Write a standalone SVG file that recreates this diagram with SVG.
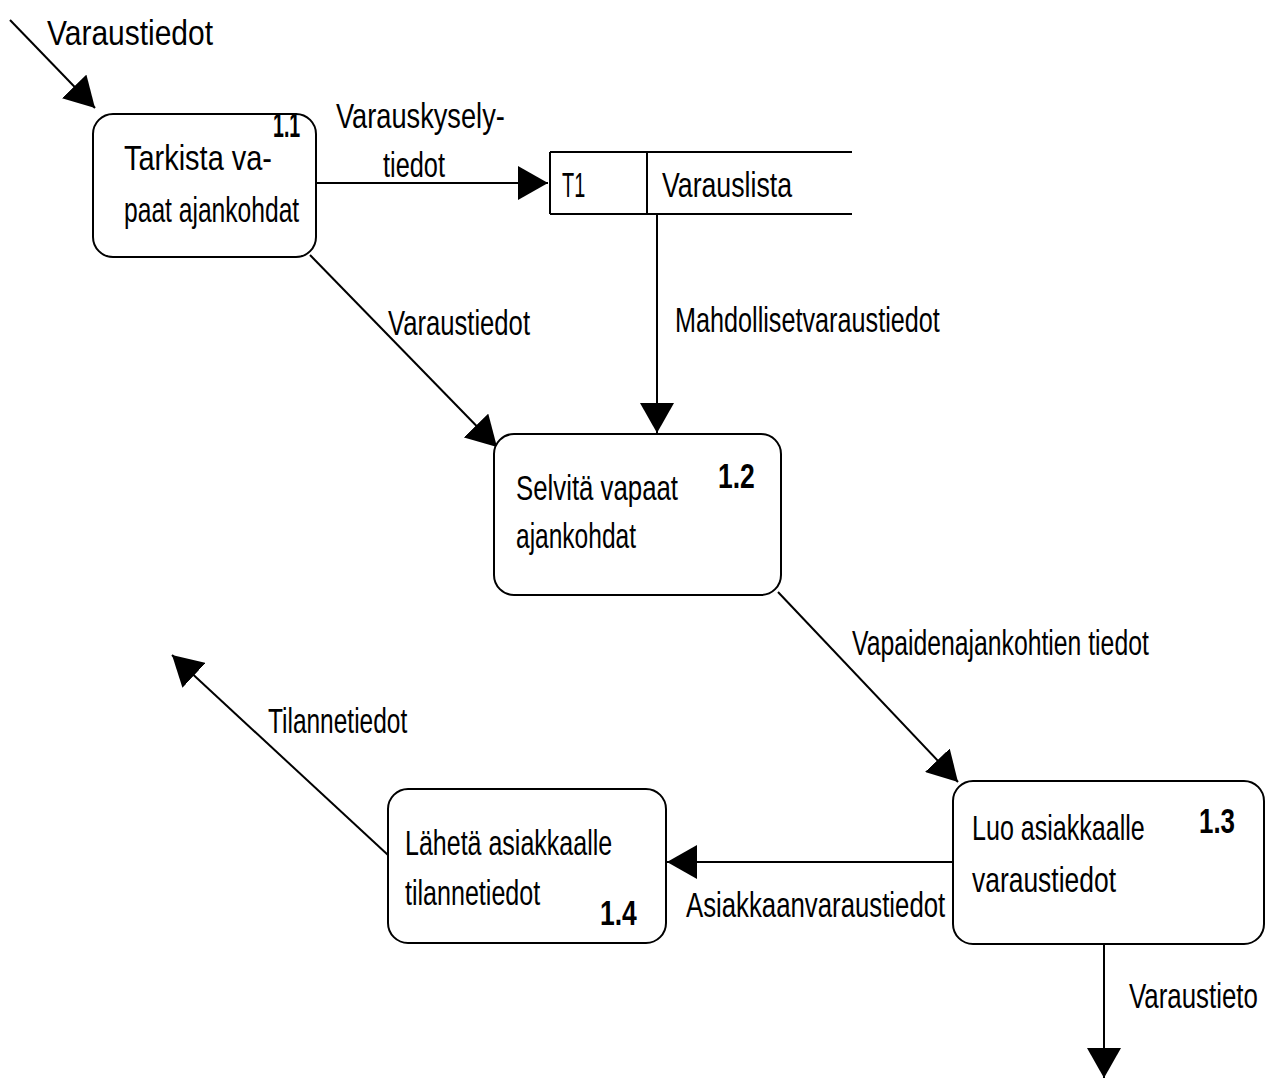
<svg xmlns="http://www.w3.org/2000/svg" width="1268" height="1080" viewBox="0 0 1268 1080">
<style>
.box{fill:#fff;stroke:#000;stroke-width:2}
.t{font-family:"Liberation Sans",Arial,sans-serif;font-size:36px;fill:#000}
.n{font-family:"Liberation Sans",Arial,sans-serif;font-size:36px;font-weight:bold;fill:#000}
.c{fill:none;stroke:#000;stroke-width:2}
</style>
<defs>
<marker id="ah" markerUnits="userSpaceOnUse" markerWidth="32" markerHeight="34" refX="30" refY="17" orient="auto">
<path d="M0,0 L30,17 L0,34 Z" fill="#000"/>
</marker>
</defs>
<rect width="1268" height="1080" fill="#fff"/>
<g id="connectors">
<line class="c" x1="10" y1="20" x2="95" y2="108" marker-end="url(#ah)"/>
<line class="c" x1="316" y1="183" x2="548" y2="183" marker-end="url(#ah)"/>
<line class="c" x1="657" y1="214" x2="657" y2="433" marker-end="url(#ah)"/>
<line class="c" x1="310" y1="255" x2="497" y2="447" marker-end="url(#ah)"/>
<line class="c" x1="778" y1="592" x2="958" y2="782" marker-end="url(#ah)"/>
<line class="c" x1="953" y1="862" x2="667" y2="862" marker-end="url(#ah)"/>
<line class="c" x1="388" y1="855" x2="172" y2="655" marker-end="url(#ah)"/>
<line class="c" x1="1104" y1="944" x2="1104" y2="1078" marker-end="url(#ah)"/>
<text class="t" transform="translate(47 45) scale(0.8 1)" textLength="207.5" lengthAdjust="spacingAndGlyphs">Varaustiedot</text>
<text class="t" transform="translate(336 128) scale(0.8 1)" textLength="211" lengthAdjust="spacingAndGlyphs">Varauskysely-</text>
<text class="t" transform="translate(383 177) scale(0.8 1)" textLength="77.5" lengthAdjust="spacingAndGlyphs">tiedot</text>
<text class="t" transform="translate(675 332) scale(0.8 1)" textLength="331" lengthAdjust="spacingAndGlyphs">Mahdollisetvaraustiedot</text>
<text class="t" transform="translate(388 335) scale(0.8 1)" textLength="177.5" lengthAdjust="spacingAndGlyphs">Varaustiedot</text>
<text class="t" transform="translate(852 655) scale(0.8 1)" textLength="371" lengthAdjust="spacingAndGlyphs">Vapaidenajankohtien tiedot</text>
<text class="t" transform="translate(686 917) scale(0.8 1)" textLength="324" lengthAdjust="spacingAndGlyphs">Asiakkaanvaraustiedot</text>
<text class="t" transform="translate(268 733) scale(0.8 1)" textLength="174" lengthAdjust="spacingAndGlyphs">Tilannetiedot</text>
<text class="t" transform="translate(1129 1008) scale(0.7 1)" textLength="184" lengthAdjust="spacingAndGlyphs">Varaustieto</text>
</g>
<g id="n11">
<rect class="box" x="93" y="114" width="223" height="143" rx="20"/>
<text class="n" transform="translate(273 137) scale(0.8 1)" textLength="34" lengthAdjust="spacingAndGlyphs">1.1</text>
<text class="t" transform="translate(124 170) scale(0.8 1)" textLength="185" lengthAdjust="spacingAndGlyphs">Tarkista va-</text>
<text class="t" transform="translate(124 222) scale(0.8 1)" textLength="219" lengthAdjust="spacingAndGlyphs">paat ajankohdat</text>
</g>
<g id="t1">
<line class="c" x1="550" y1="152" x2="852" y2="152"/>
<line class="c" x1="550" y1="214" x2="852" y2="214"/>
<line class="c" x1="550" y1="152" x2="550" y2="214"/>
<line class="c" x1="647" y1="152" x2="647" y2="214"/>
<text class="t" transform="translate(562 197) scale(0.8 1)" textLength="29" lengthAdjust="spacingAndGlyphs">T1</text>
<text class="t" transform="translate(662 197) scale(0.8 1)" textLength="162.5" lengthAdjust="spacingAndGlyphs">Varauslista</text>
</g>
<g id="n12">
<rect class="box" x="494" y="434" width="287" height="161" rx="20"/>
<text class="t" transform="translate(516 500) scale(0.8 1)" textLength="202.5" lengthAdjust="spacingAndGlyphs">Selvitä vapaat</text>
<text class="t" transform="translate(516 548) scale(0.8 1)" textLength="150" lengthAdjust="spacingAndGlyphs">ajankohdat</text>
<text class="n" transform="translate(718 488) scale(0.8 1)" textLength="46" lengthAdjust="spacingAndGlyphs">1.2</text>
</g>
<g id="n13">
<rect class="box" x="953" y="781" width="311" height="163" rx="20"/>
<text class="t" transform="translate(972 840) scale(0.8 1)" textLength="216" lengthAdjust="spacingAndGlyphs">Luo asiakkaalle</text>
<text class="t" transform="translate(972 892) scale(0.8 1)" textLength="180" lengthAdjust="spacingAndGlyphs">varaustiedot</text>
<text class="n" transform="translate(1199 833) scale(0.8 1)" textLength="45" lengthAdjust="spacingAndGlyphs">1.3</text>
</g>
<g id="n14">
<rect class="box" x="388" y="789" width="278" height="154" rx="20"/>
<text class="t" transform="translate(405 855) scale(0.8 1)" textLength="259" lengthAdjust="spacingAndGlyphs">Lähetä asiakkaalle</text>
<text class="t" transform="translate(405 905) scale(0.8 1)" textLength="169" lengthAdjust="spacingAndGlyphs">tilannetiedot</text>
<text class="n" transform="translate(600 925) scale(0.8 1)" textLength="46" lengthAdjust="spacingAndGlyphs">1.4</text>
</g>
</svg>
